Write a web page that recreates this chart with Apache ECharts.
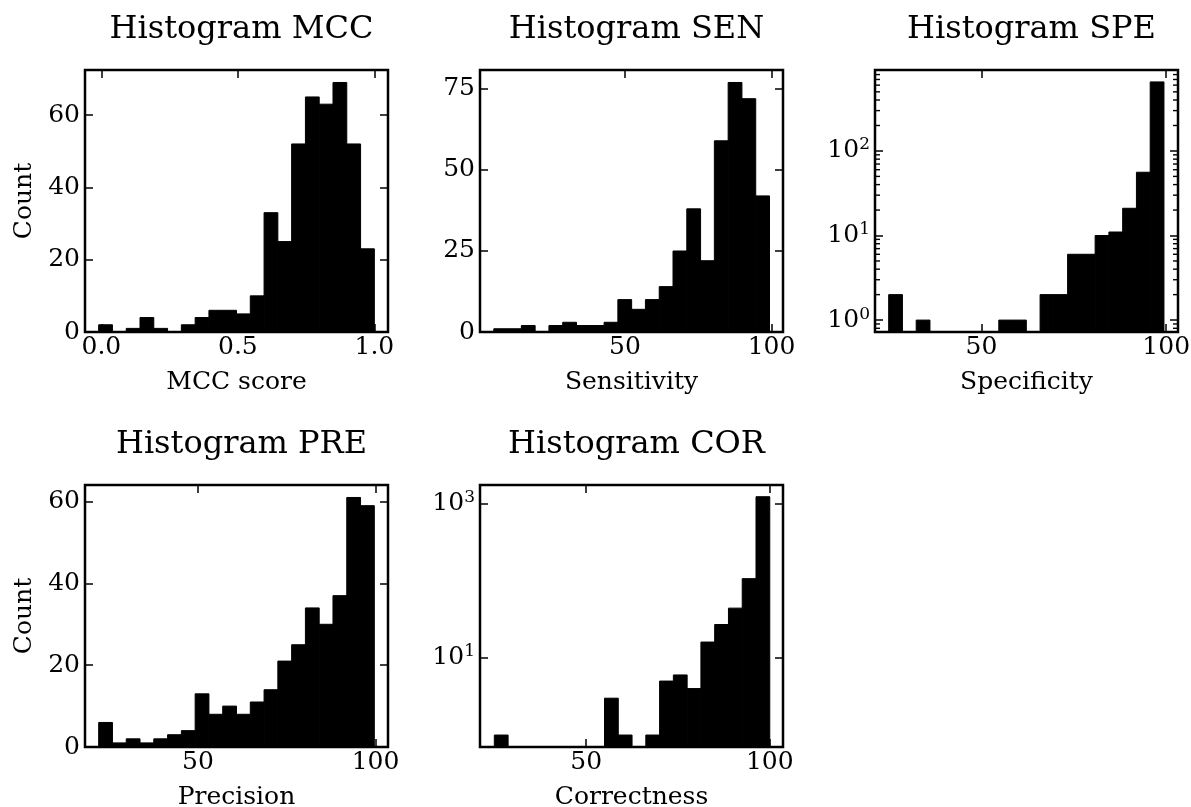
<!DOCTYPE html>
<html><head><meta charset="utf-8">
<script src="https://cdn.jsdelivr.net/npm/echarts@6/dist/echarts.min.js"></script>
<style>html,body{margin:0;padding:0;background:#fff}#c{width:1191px;height:807px}</style>
</head><body><div id="c"></div>
<script>
// ---- data ----
const titles = ['Histogram MCC','Histogram SEN','Histogram SPE','Histogram PRE','Histogram COR'];
const xNames = ['MCC score','Sensitivity','Specificity','Precision','Correctness'];
const yNames = ['Count','','','Count',''];
const mccCounts = [2,0,1,4,1,0,2,4,6,6,5,10,33,25,52,65,63,69,52,23];
const senCounts = [1,1,2,0,2,3,2,2,3,10,7,10,14,25,38,22,59,77,72,42];
const speCounts = [2,0,1,0,0,0,0,0,1,1,0,2,2,6,6,10,11,21,56,655];
const preCounts = [6,1,2,1,2,3,4,13,8,10,8,11,14,21,25,34,30,37,61,59];
const corCounts = [1,0,0,0,0,0,0,0,3,1,0,1,5,6,4,16,27,44,106,1220];
const binStarts = [-0.01, 5.3, 24.9, 22.05, 25.0];
const binWidths = [0.0505, 4.7, 3.725, 3.88, 3.75];
const xMins = [-0.06, 0.6, 21.2, 18.2, 21.1];
const xMaxs = [1.05, 103.9, 103.2, 103.5, 103.6];
const yMins = [0, 0, 0.723, 0, 0.70];
const yMaxs = [72.45, 80.85, 906, 64.05, 1730];
const xTicks = [[0,0.5,1.0],[50,100],[50,100],[50,100],[50,100]];
const yTicks = [[0,20,40,60],[0,25,50,75],[1,10,100],[0,20,40,60],[10,1000]];
const speMinorTicks = [0.8,0.9,2,3,4,5,6,7,8,9,20,30,40,50,60,70,80,90,200,300,400,500,600,700,800,900];
const isLog = [false,false,true,false,true];

// ---- layout / style ----
const counts = [mccCounts, senCounts, speCounts, preCounts, corCounts];
const minorTicks = [null, null, speMinorTicks, null, null];
const FONT = 'DejaVu Serif';
const pos = [{l:85,t:70},{l:480,t:70},{l:875,t:70},{l:85,t:485},{l:480,t:485}];
const W = 303, H = 262;
const tickStyle = {color:'#000', width:1.5};
const labelStyle = {color:'#000', fontFamily:FONT, fontSize:25};

const grid=[], xAxis=[], yAxis=[], series=[], title=[];
const minorSpecs = [];
counts.forEach((cs, i) => {
  const P = pos[i];
  grid.push({left:P.l, top:P.t, width:W, height:H, show:true, borderColor:'#000', borderWidth:2.5,
             containLabel:false, outerBoundsMode:'none'});
  title.push({text:titles[i], left:P.l + W/2, top:P.t - 61, textAlign:'center',
              textStyle:{fontFamily:FONT, fontSize:32, fontWeight:'normal', color:'#000'}});
  const xFmt = i === 0 ? (v => Number(v).toFixed(1)) : (v => String(Math.round(v)));
  const xBase = {gridIndex:i, type:'value', min:xMins[i], max:xMaxs[i],
    axisLine:{show:false, onZero:false}, splitLine:{show:false}};
  const xi = xAxis.length;
  xAxis.push(Object.assign({}, xBase, {position:'bottom',
    axisTick:{inside:true, length:8, lineStyle:tickStyle, customValues:xTicks[i]},
    axisLabel:Object.assign({margin:3, customValues:xTicks[i], formatter:xFmt}, labelStyle),
    name:xNames[i], nameLocation:'middle', nameGap:38,
    nameTextStyle:{color:'#000', fontFamily:FONT, fontSize:25}}));
  xAxis.push(Object.assign({}, xBase, {position:'top',
    axisTick:{inside:true, length:8, lineStyle:tickStyle, customValues:xTicks[i]},
    axisLabel:{show:false}}));
  const yBase = {gridIndex:i, type:isLog[i] ? 'log' : 'value', logBase:10, min:yMins[i], max:yMaxs[i],
    axisLine:{show:false, onZero:false}, splitLine:{show:false}};
  const yFmt = isLog[i] ? (v => '10{s|' + Math.round(Math.log10(v)) + '}') : (v => String(v));
  const yi = yAxis.length;
  yAxis.push(Object.assign({}, yBase, {position:'left',
    axisTick:{inside:true, length:8, lineStyle:tickStyle, customValues:yTicks[i]},
    axisLabel:Object.assign({margin:5, customValues:yTicks[i], formatter:yFmt,
      rich:{s:{fontFamily:FONT, fontSize:17, color:'#000', verticalAlign:'top', padding:[0,0,12,0]}}}, labelStyle),
    name:yNames[i], nameLocation:'middle', nameGap:48,
    nameTextStyle:{color:'#000', fontFamily:FONT, fontSize:25}}));
  yAxis.push(Object.assign({}, yBase, {position:'right',
    axisTick:{inside:true, length:8, lineStyle:tickStyle, customValues:yTicks[i]},
    axisLabel:{show:false}}));
  const base = isLog[i] ? yMins[i] : 0;
  const s = binStarts[i], w = binWidths[i];
  series.push({type:'custom', xAxisIndex:xi, yAxisIndex:yi, silent:true, clip:true,
    encode:{x:[0,1], y:2},
    data: cs.map((c,k) => [s + k*w, s + (k+1)*w, c]).filter(d => d[2] > 0),
    renderItem:(params, api) => {
      const p0 = api.coord([api.value(0), base]);
      const p1 = api.coord([api.value(1), api.value(2)]);
      return {type:'rect', shape:{x:p0[0], y:p1[1], width:p1[0]-p0[0], height:p0[1]-p1[1]},
              style:{fill:'#000', stroke:'#000', lineWidth:1}};
    }});
  if (minorTicks[i]) minorSpecs.push({xi, yi, i, vals:minorTicks[i]});
});

const chart = echarts.init(document.getElementById('c'), null, {renderer:'canvas'});
chart.setOption({animation:false, backgroundColor:'#fff', title, grid, xAxis, yAxis, series});

// minor ticks for log axes, placed through the library's own scale conversion
const graphic = [];
minorSpecs.forEach(m => {
  m.vals.forEach(v => {
    const pl = chart.convertToPixel({xAxisIndex:m.xi, yAxisIndex:m.yi}, [xMins[m.i], v]);
    const pr = chart.convertToPixel({xAxisIndex:m.xi, yAxisIndex:m.yi}, [xMaxs[m.i], v]);
    if (!pl || !pr) return;
    graphic.push({type:'line', silent:true, z:100,
      shape:{x1:pl[0], y1:pl[1], x2:pl[0] + 5, y2:pl[1]}, style:{stroke:'#000', lineWidth:1.4}});
    graphic.push({type:'line', silent:true, z:100,
      shape:{x1:pr[0], y1:pr[1], x2:pr[0] - 5, y2:pr[1]}, style:{stroke:'#000', lineWidth:1.4}});
  });
});
chart.setOption({graphic});
</script></body></html>
